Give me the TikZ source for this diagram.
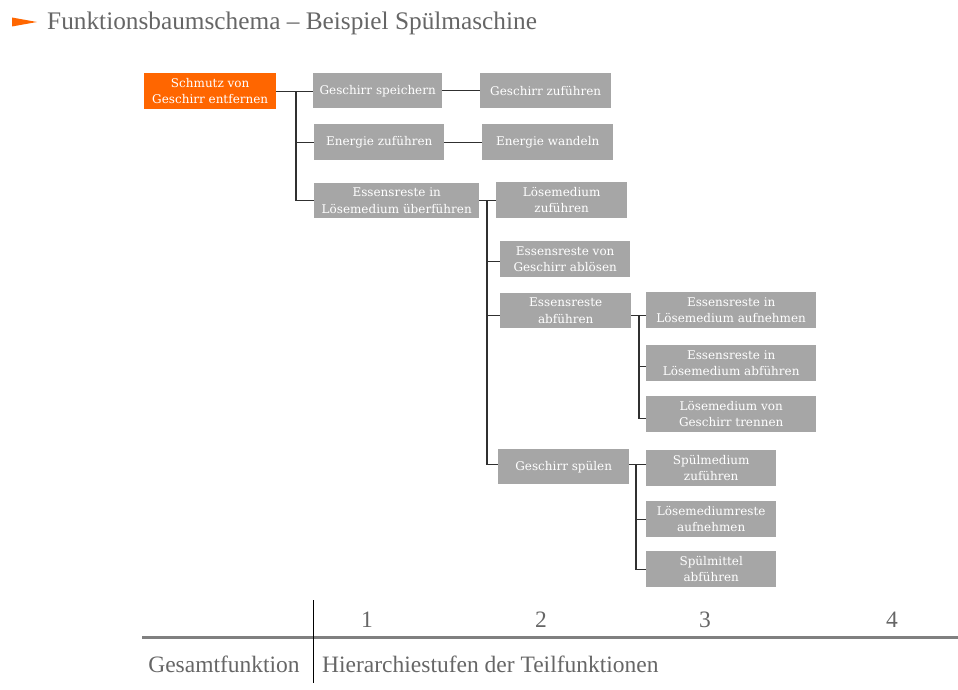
\documentclass[tikz,border=0pt]{standalone}
\usepackage{fontspec}
\setmainfont{Liberation Serif}
\newfontfamily\boxfont{DejaVu Serif}
\definecolor{orng}{HTML}{FF6600}
\definecolor{bgray}{HTML}{A6A6A6}
\definecolor{tgray}{HTML}{666666}
\definecolor{lgray}{HTML}{808080}
\definecolor{lnk}{HTML}{303030}
\tikzset{
  fbox/.style={fill=bgray, text=white, inner sep=0pt, anchor=north west, align=center,
    font=\boxfont\fontsize{12}{16.5}\selectfont},
  rootbox/.style={fbox, fill=orng},
  lnkline/.style={draw=lnk, line width=1.2pt},
  axtext/.style={text=tgray, font=\fontsize{23.5}{26}\selectfont},
}
\begin{document}
\begin{tikzpicture}[x=1pt,y=-1pt]
\useasboundingbox (0,0) rectangle (958,690);
% title
\fill[orng] (12,17.5) -- (37,22) -- (12,26.5) -- cycle;
\node[anchor=west, text=tgray, font=\fontsize{25.3}{28}\selectfont, inner sep=0pt] (title) at (47,23) {Funktionsbaumschema -- Beispiel Spülmaschine};
% level 0
\node[rootbox, minimum width=132, minimum height=36] (root) at (144,73) {Schmutz von\\Geschirr entfernen};
% level 1
\node[fbox, minimum width=129, minimum height=35] (gs) at (313,73) {Geschirr speichern};
\node[fbox, minimum width=130, minimum height=36] (ez) at (314,124) {Energie zuführen};
\node[fbox, minimum width=165, minimum height=35] (eu) at (314,183) {Essensreste in\\Lösemedium überführen};
% level 2
\node[fbox, minimum width=131, minimum height=35] (gz) at (480,73) {Geschirr zuführen};
\node[fbox, minimum width=131, minimum height=36] (ew) at (482,124) {Energie wandeln};
\node[fbox, minimum width=131, minimum height=36] (lz) at (496,182) {Lösemedium\\zuführen};
\node[fbox, minimum width=130, minimum height=36] (ab) at (500,241) {Essensreste von\\Geschirr ablösen};
\node[fbox, minimum width=131, minimum height=35] (ea) at (500,293) {Essensreste\\abführen};
\node[fbox, minimum width=131, minimum height=35] (gsp) at (498,449) {Geschirr spülen};
% level 3
\node[fbox, minimum width=170, minimum height=36] (eaa) at (646,292) {Essensreste in\\Lösemedium aufnehmen};
\node[fbox, minimum width=170, minimum height=36] (eab) at (646,345) {Essensreste in\\Lösemedium abführen};
\node[fbox, minimum width=170, minimum height=36] (lt) at (646,396) {Lösemedium von\\Geschirr trennen};
\node[fbox, minimum width=130, minimum height=36] (smz) at (646,450) {Spülmedium\\zuführen};
\node[fbox, minimum width=130, minimum height=36] (lra) at (646,501) {Lösemediumreste\\aufnehmen};
\node[fbox, minimum width=130, minimum height=36] (sma) at (646,551) {Spülmittel\\abführen};
% connector anchors
\coordinate (j1) at (296,0);
\coordinate (j2) at (487,0);
\coordinate (j3) at (639,0);
\coordinate (j4) at (636,0);
\coordinate (eaR) at ([yshift=-5pt]ea.east);
\coordinate (gspR) at ([yshift=2pt]gsp.east);
% connectors
\draw[lnkline] (root.east) -- (root.east -| gs.west);
\draw[lnkline] (j1 |- root.east) |- (ez.west);
\draw[lnkline] (j1 |- root.east) |- (eu.west);
\draw[lnkline] (gs.east) -- (gs.east -| gz.west);
\draw[lnkline] (ez.east) -- (ez.east -| ew.west);
\draw[lnkline] (eu.east) -- (eu.east -| lz.west);
\draw[lnkline] (j2 |- eu.east) |- ([yshift=-2pt]ab.west);
\draw[lnkline] (j2 |- eu.east) |- ([yshift=-5pt]ea.west);
\draw[lnkline] (j2 |- eu.east) |- ([yshift=2pt]gsp.west);
\draw[lnkline] (eaR) -- (eaR -| eaa.west);
\draw[lnkline] (j3 |- eaR) |- ([yshift=-3pt]eab.west);
\draw[lnkline] (j3 |- eaR) |- ([yshift=-4pt]lt.west);
\draw[lnkline] (gspR) -- (gspR -| smz.west);
\draw[lnkline] (j4 |- gspR) |- (lra.west);
\draw[lnkline] (j4 |- gspR) |- (sma.west);
% axis
\coordinate (ax0) at (142,637);
\coordinate (ax1) at (958,637);
\coordinate (v0) at (313,600);
\coordinate (v1) at (313,683);
\draw[lgray, line width=3pt] (ax0) -- (ax1);
\draw[black, line width=1pt] (v0) -- (v1);
\node[axtext] (n1) at (367,620) {1};
\node[axtext] (n2) at (541,620) {2};
\node[axtext] (n3) at (705,620) {3};
\node[axtext] (n4) at (892,620) {4};
\node[axtext] (gf) at (224,664) {Gesamtfunktion};
\node[axtext, anchor=west, inner sep=0pt] (hs) at (322,664) {Hierarchiestufen der Teilfunktionen};
\end{tikzpicture}
\end{document}
